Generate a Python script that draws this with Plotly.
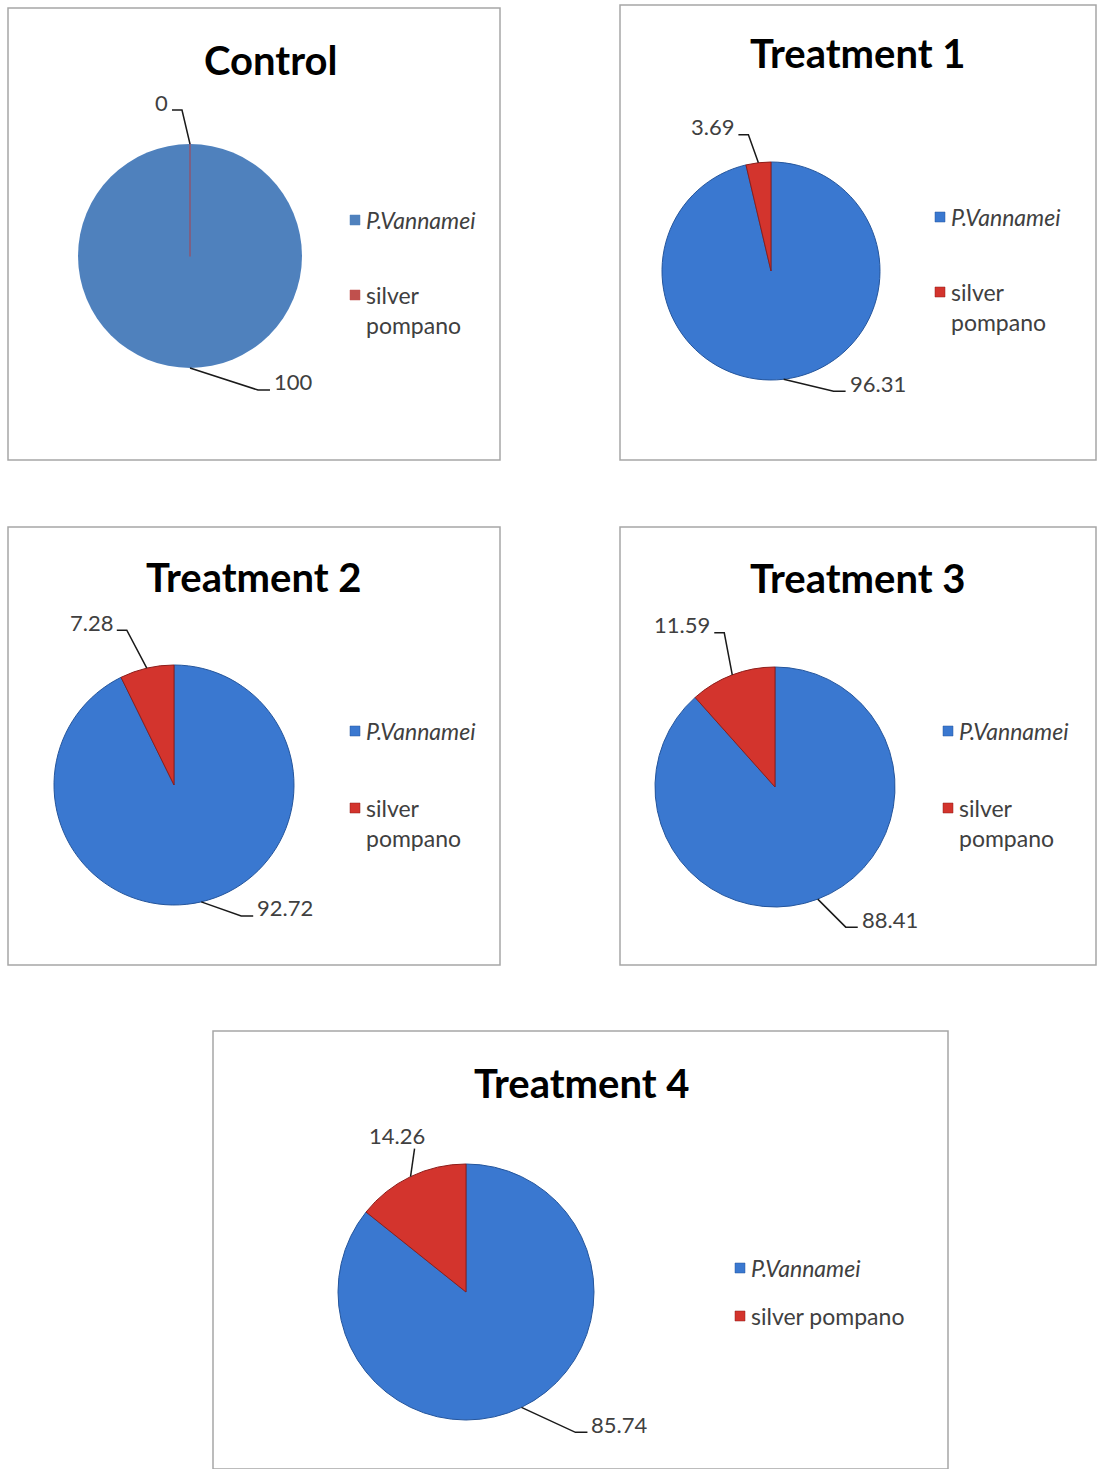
import math
import plotly.graph_objects as go

W, H = 1100, 1469

# ---- data -------------------------------------------------------------
panel_titles = ["Control", "Treatment 1", "Treatment 2", "Treatment 3", "Treatment 4"]
species = ["P.Vannamei", "silver pompano"]
vannamei_pct = [100, 96.31, 92.72, 88.41, 85.74]
pompano_pct = [0, 3.69, 7.28, 11.59, 14.26]
value_text = [
    ["100", "0"],
    ["96.31", "3.69"],
    ["92.72", "7.28"],
    ["88.41", "11.59"],
    ["85.74", "14.26"],
]

# ---- styling / layout (pixels) ---------------------------------------
flat_colors = ["#4F81BD", "#C0504D"]
vivid_colors = ["#3A78D0", "#D3342D"]
vivid_edges = ["#24559C", "#8E1D1A"]

panels = [
    # frame (x0, y0, x1, y1), pie centre/radius, title centre, legend x/y's, leader offsets
    dict(box=(8, 8, 500, 460), cx=190, cy=256, r=112, title=(270, 60),
         leg_x=355, leg_y=(220, 295), wrap=True, flat=True,
         lead=[(68, 22, "right"), (-8, -34, "left")]),
    dict(box=(620, 5, 1096, 460), cx=771, cy=271, r=109, title=(858, 53),
         leg_x=940, leg_y=(217, 292), wrap=True, flat=False,
         lead=[(50, 12, "right"), (-10, -28, "left")]),
    dict(box=(8, 527, 500, 965), cx=174, cy=785, r=120, title=(254, 577),
         leg_x=355, leg_y=(731, 808), wrap=True, flat=False,
         lead=[(40, 14, "right"), (-20, -38, "left")]),
    dict(box=(620, 527, 1096, 965), cx=775, cy=787, r=120, title=(858, 578),
         leg_x=948, leg_y=(731, 808), wrap=True, flat=False,
         lead=[(28, 28, "right"), (-8, -42, "left")]),
    dict(box=(213, 1031, 948, 1469), cx=466, cy=1292, r=128, title=(582, 1083),
         leg_x=740, leg_y=(1268, 1316), wrap=False, flat=False,
         lead=[(54, 25, "right"), (4, -28, "up")]),
]

FONT = "Lato, 'Open Sans', sans-serif"
GREY = "#404040"


def px(x):
    return x / W


def py(y):
    return 1 - y / H


fig = go.Figure()
shapes = []
annotations = []

for i, p in enumerate(panels):
    vals = [vannamei_pct[i], pompano_pct[i]]
    cols = flat_colors if p["flat"] else vivid_colors
    if p["flat"]:
        line_cols = ["#4F81BD", "#8E5570"]
        line_w = [0, 1.5]
    else:
        line_cols = vivid_edges
        line_w = [1, 1]
    cx, cy, r = p["cx"], p["cy"], p["r"]

    fig.add_trace(go.Pie(
        labels=species,
        values=vals,
        sort=False,
        direction="clockwise",
        rotation=0,
        textinfo="none",
        showlegend=False,
        marker=dict(colors=cols, line=dict(color=line_cols, width=line_w)),
        domain=dict(x=[px(cx - r), px(cx + r)], y=[py(cy + r), py(cy - r)]),
        hovertemplate="%{label}: %{value}<extra></extra>",
    ))

    # frame
    x0, y0, x1, y1 = p["box"]
    shapes.append(dict(type="rect", xref="paper", yref="paper",
                       x0=px(x0), x1=px(x1), y0=py(y1), y1=py(y0),
                       line=dict(color="#A6A6A6", width=1.5)))

    # title
    tx, ty = p["title"]
    annotations.append(dict(text="<b>%s</b>" % panel_titles[i], x=px(tx), y=py(ty),
                            xref="paper", yref="paper", showarrow=False,
                            xanchor="center", yanchor="middle",
                            font=dict(family=FONT, size=40, color="#000000")))

    # data labels with leader lines, anchored at each slice's mid-angle
    total = sum(vals)
    start = 0.0
    for k, v in enumerate(vals):
        span = 360.0 * v / total
        mid = math.radians(start + span / 2)
        start += span
        ex = cx + r * math.sin(mid)
        ey = cy - r * math.cos(mid)
        dx, dy, side = p["lead"][k]
        bx, by = ex + dx, ey + dy
        if side == "right":
            qx, qy = bx + 12, by
            ann = dict(x=px(qx + 2), y=py(qy), xanchor="left", yanchor="middle", yshift=8)
        elif side == "left":
            qx, qy = bx - 10, by
            ann = dict(x=px(qx - 2), y=py(qy), xanchor="right", yanchor="middle", yshift=8)
        else:
            qx, qy = bx, by
            ann = dict(x=px(qx - 18), y=py(qy), xanchor="center", yanchor="middle", yshift=13)
        shapes.append(dict(type="path", xref="paper", yref="paper",
                           path="M %.5f,%.5f L %.5f,%.5f L %.5f,%.5f" % (
                               px(ex), py(ey), px(bx), py(by), px(qx), py(qy)),
                           line=dict(color="#1A1A1A", width=1.5)))
        ann.update(text=value_text[i][k], xref="paper", yref="paper", showarrow=False,
                   font=dict(family=FONT, size=22, color=GREY))
        annotations.append(ann)

    # legend
    lx = p["leg_x"]
    for k, name in enumerate(species):
        ly = p["leg_y"][k]
        shapes.append(dict(type="rect", xref="paper", yref="paper",
                           x0=px(lx - 5), x1=px(lx + 5), y0=py(ly + 5), y1=py(ly - 5),
                           fillcolor=cols[k],
                           line=dict(color=cols[k] if p["flat"] else line_cols[k], width=0.5)))
        if k == 0:
            label = "<i>%s</i>" % name
        elif p["wrap"]:
            label = name.replace(" ", "<br>")
        else:
            label = name
        annotations.append(dict(text=label, x=px(lx + 9), y=py(ly - 16),
                                xref="paper", yref="paper", showarrow=False,
                                xanchor="left", yanchor="top", align="left",
                                font=dict(family=FONT, size=23, color=GREY)))

fig.update_layout(
    width=W, height=H,
    margin=dict(l=0, r=0, t=0, b=0),
    paper_bgcolor="#FFFFFF",
    plot_bgcolor="#FFFFFF",
    shapes=shapes,
    annotations=annotations,
)

fig.write_html("out.html")
